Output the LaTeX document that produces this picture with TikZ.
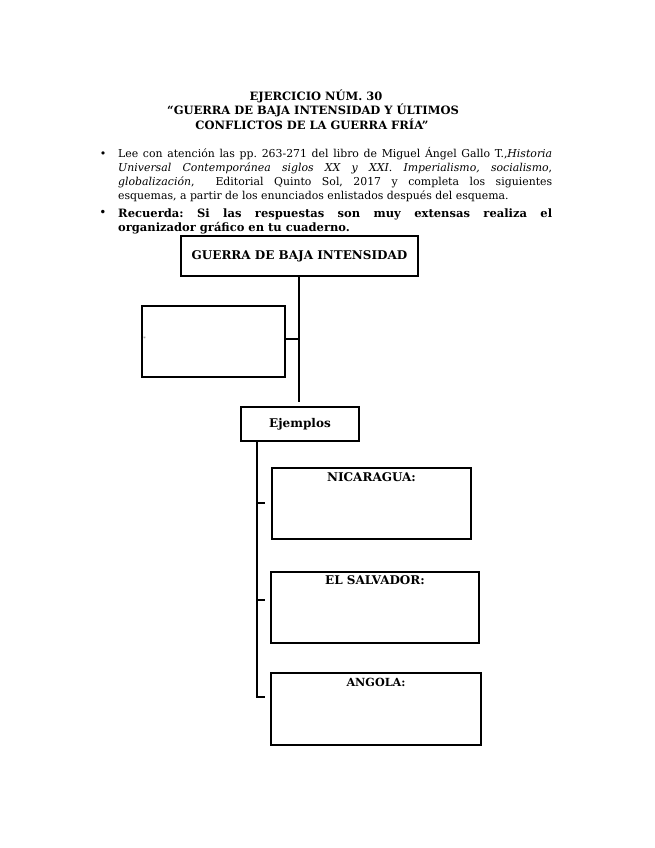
\documentclass[tikz,border=0pt]{standalone}
\usepackage{fontspec}
\setmainfont{DejaVu Serif}
\begin{document}
\frenchspacing
\begin{tikzpicture}[x=1pt,y=-1pt,
  box/.style={draw=black, line width=2pt, inner sep=0pt},
  conn/.style={draw=black, line width=2.5pt},
  lbl/.style={font=\fontsize{12}{14}\selectfont\bfseries, inner sep=0pt},
  ttl/.style={font=\fontsize{11.5}{14}\selectfont\bfseries, inner sep=0pt},
  para/.style={inner sep=0pt, anchor=north west, text width=434pt, align=justify},
  bul/.style={inner sep=0pt, font=\fontsize{11}{13}\selectfont},
  boldline/.style={inner sep=0pt, anchor=base west, font=\fontsize{11.5}{14}\selectfont\bfseries}
]
\useasboundingbox (0,0) rectangle (655,848);
\fill[white] (0,0) rectangle (655,848);

% Title
\node[ttl] (t1) at (316,96) {EJERCICIO NÚM. 30};
\node[ttl] (t2) at (313,110.5) {“GUERRA DE BAJA INTENSIDAD Y ÚLTIMOS};
\node[ttl] (t3) at (312,124.5) {CONFLICTOS DE LA GUERRA FRÍA”};

% Bullets
\node[bul] (b1) at (103,155) {\textbullet};
\node[bul, font=\fontsize{12}{13}\selectfont] (b2) at (103,213) {\textbullet};
\node[para, font=\fontsize{10.9}{14.1}\selectfont] (p1) at (118,147)
 {Lee con atención las pp. 263-271 del libro de Miguel Ángel Gallo T.,\textit{Historia}\linebreak
  \textit{Universal Contemporánea siglos XX y XXI. Imperialismo, socialismo},\linebreak
  \textit{globalización}, \ Editorial Quinto Sol, 2017 y completa los siguientes\linebreak
  esquemas, a partir de los enunciados enlistados después del esquema.};
\node[boldline] (p2a) at (118,217)
 {\makebox[434pt][s]{Recuerda: Si las respuestas son muy extensas realiza el}};
\node[boldline] (p2b) at (118,231)
 {organizador gráfico en tu cuaderno.};

% Boxes
\node[box, minimum width=237pt, minimum height=40pt, font=\fontsize{12}{14}\selectfont\bfseries] (g) at (299.5,256) {GUERRA DE BAJA INTENSIDAD};
\node[box, minimum width=143pt, minimum height=71pt] (l) at (213.5,341.5) {};
\node[inner sep=0pt, font=\tiny, text=gray] (ast) at (144.5,339) {*};
\node[box, minimum width=118pt, minimum height=34pt, font=\fontsize{12}{14}\selectfont\bfseries] (e) at (300,424) {Ejemplos};
\node[box, minimum width=199pt, minimum height=71pt] (n) at (371.5,503.5) {};
\node[box, minimum width=208pt, minimum height=71pt] (s) at (375,607.5) {};
\node[box, minimum width=210pt, minimum height=72pt] (a) at (376,709) {};
\node[lbl] (nl) at ([yshift=-10pt]n.north) {NICARAGUA:};
\node[lbl] (sl) at ([yshift=-9pt]s.north) {EL SALVADOR:};
\node[lbl, font=\fontsize{11.2}{13}\selectfont\bfseries] (al) at ([yshift=-10pt]a.north) {ANGOLA:};

% Connectors
\coordinate (c1) at (299,402);
\coordinate (j1) at (299,339);
\draw[conn] (g.south -| c1) -- (c1);
\draw[conn] (l.east |- j1) -- (j1);
\coordinate (v0) at (257,441);
\coordinate (v3) at (257,697);
\coordinate (k1) at (257,503);
\coordinate (k2) at (257,600);
\coordinate (m1) at (264.5,503);
\coordinate (m2) at (264.5,600);
\coordinate (m3) at (264.5,697);
\draw[conn] (v0) -- (v3);
\draw[conn] (k1) -- (m1);
\draw[conn] (k2) -- (m2);
\draw[conn] ([xshift=-1.25pt]v3) -- (m3);
\end{tikzpicture}
\end{document}
